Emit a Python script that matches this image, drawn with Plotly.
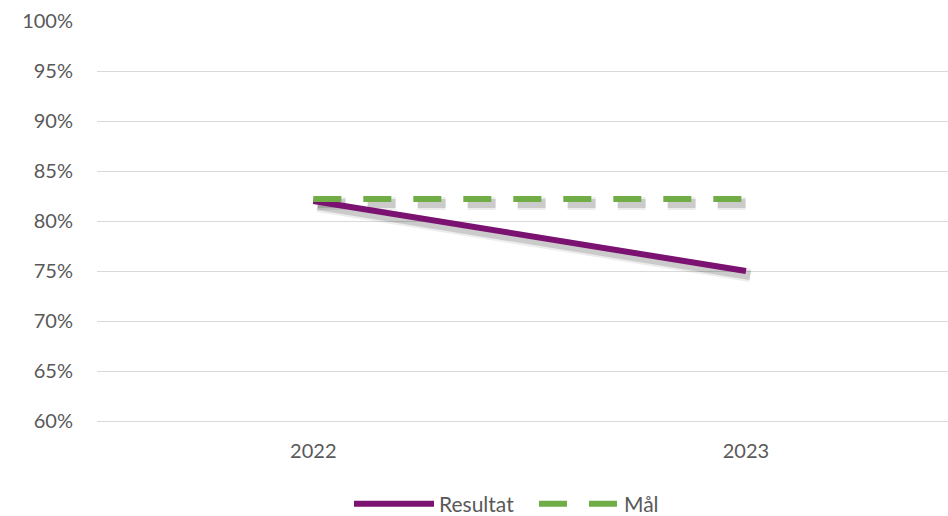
import plotly.graph_objects as go

years = ["2022", "2023"]
resultat = [0.820, 0.750]
maal = [0.822, 0.822]
y_ticks = [0.60, 0.65, 0.70, 0.75, 0.80, 0.85, 0.90, 0.95, 1.00]

xpos = list(range(len(years)))
FONT = "Lato, 'Noto Sans', sans-serif"
TXT = "#595959"

fig = go.Figure()
# soft shadows
for vals, dash in ((resultat, "solid"), (maal, "28px,22px")):
    for w, a in ((13, 0.07), (9, 0.14)):
        fig.add_trace(go.Scatter(
            x=[v + 0.01 for v in xpos], y=[v - 0.0045 for v in vals], mode="lines",
            line=dict(color=f"rgba(0,0,0,{a})", width=w, dash=dash),
            showlegend=False, hoverinfo="skip"))
fig.add_trace(go.Scatter(x=xpos, y=resultat, mode="lines", name="Resultat",
                         line=dict(color="#7B1170", width=6)))
fig.add_trace(go.Scatter(x=xpos, y=maal, mode="lines", name="Mål",
                         line=dict(color="#70AD47", width=6, dash="28px,22px")))

fig.update_layout(
    width=948, height=516,
    margin=dict(l=97, r=0, t=21, b=95),
    paper_bgcolor="white", plot_bgcolor="white",
    font=dict(family=FONT, size=20, color=TXT),
    showlegend=True,
    legend=dict(orientation="h", x=0.5135, xanchor="center", yref="container",
                y=0.0233, yanchor="middle", entrywidth=90, entrywidthmode="pixels",
                font=dict(size=21, color=TXT), itemwidth=80),
    xaxis=dict(range=[-0.5, 1.467], tickmode="array", tickvals=xpos, ticktext=years,
               showgrid=False, zeroline=False, showline=True, linecolor="#D9D9D9",
               linewidth=1.3, ticks="", ticklabelstandoff=12, automargin=False),
    yaxis=dict(range=[0.60, 1.00], tickmode="array", tickvals=y_ticks,
               ticktext=[f"{round(v*100)}%" for v in y_ticks],
               showgrid=True, gridcolor="#D9D9D9", gridwidth=1.3, zeroline=False,
               showline=False, ticks="", ticklabelstandoff=23, automargin=False),
)

fig.write_html("out.html", config={"displayModeBar": False},
               post_script="document.body.style.margin='0';document.body.style.overflow='hidden';")
